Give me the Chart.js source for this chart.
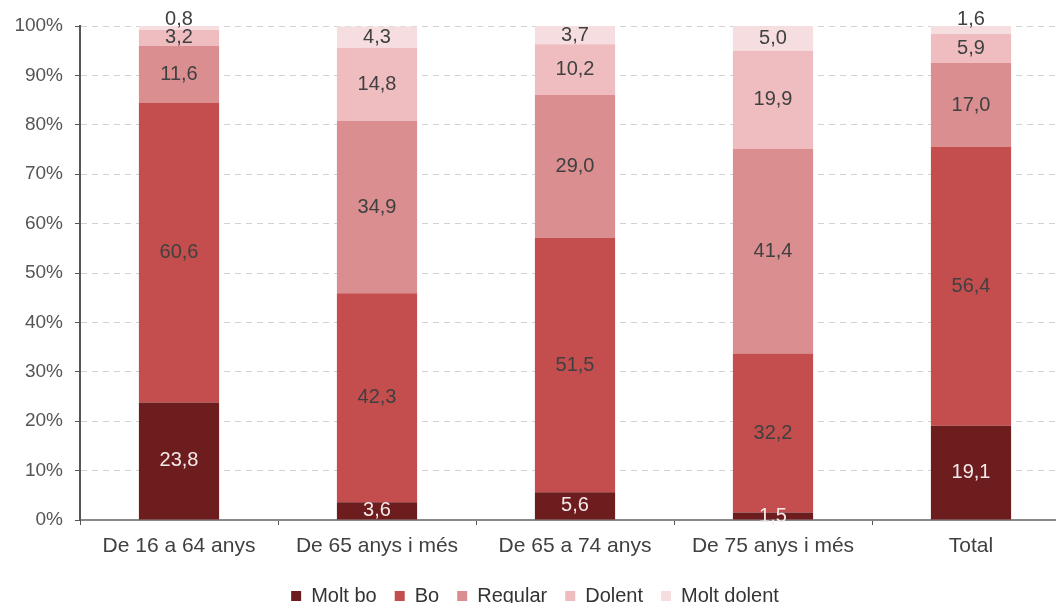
<!DOCTYPE html>
<html>
<head>
<meta charset="utf-8">
<script src="https://cdn.jsdelivr.net/npm/chart.js@4"></script>
<style>
  html, body { margin: 0; padding: 0; background: #fff; overflow: hidden; }
  #wrap { width: 1070px; height: 603px; }
</style>
</head>
<body>
<div id="wrap"><canvas id="myChart"></canvas></div>
<script>
const categories = ["De 16 a 64 anys", "De 65 anys i més", "De 65 a 74 anys", "De 75 anys i més", "Total"];
const seriesNames = ["Molt bo", "Bo", "Regular", "Dolent", "Molt dolent"];
const moltBo = [23.8, 3.6, 5.6, 1.5, 19.1];
const bo = [60.6, 42.3, 51.5, 32.2, 56.4];
const regular = [11.6, 34.9, 29.0, 41.4, 17.0];
const dolent = [3.2, 14.8, 10.2, 19.9, 5.9];
const moltDolent = [0.8, 4.3, 3.7, 5.0, 1.6];
const yTicks = [0, 10, 20, 30, 40, 50, 60, 70, 80, 90, 100];

const colors = ["#6e1d1e", "#c44e4e", "#da8e90", "#efbcc0", "#f6dde0"];
const values = [moltBo, bo, regular, dolent, moltDolent];
const FONT = "Arial";

// write the value of every segment on it (or just above when it is too thin)
const valueLabels = {
  id: "valueLabels",
  afterDatasetsDraw(chart) {
    const ctx = chart.ctx;
    ctx.save();
    ctx.font = "20px " + FONT;
    ctx.textAlign = "center";
    ctx.textBaseline = "middle";
    chart.data.datasets.forEach((ds, i) => {
      chart.getDatasetMeta(i).data.forEach((bar, j) => {
        const v = ds.data[j];
        let y = (bar.y + bar.base) / 2;
        if (Math.abs(bar.base - bar.y) < 10 && i > 0) y = bar.y - 7;
        ctx.fillStyle = i === 0 ? "#f4eaea" : "#404040";
        ctx.fillText(v.toFixed(1).replace(".", ","), bar.x, y);
      });
    });
    ctx.restore();
  },
};

const data = {
  labels: categories,
  datasets: seriesNames.map((name, i) => ({
    label: name,
    data: values[i],
    backgroundColor: colors[i],
    borderWidth: 0,
    barPercentage: 0.405,
    categoryPercentage: 1,
  })),
};

const config = {
  type: "bar",
  data: data,
  options: {
    responsive: true,
    maintainAspectRatio: false,
    animation: false,
    layout: {
      padding: { top: 26, right: 0, left: 0, bottom: -13 },
    },
    plugins: {
      legend: {
        position: "bottom",
        labels: {
          boxWidth: 10,
          boxHeight: 10,
          padding: 18,
          color: "#333",
          font: { family: FONT, size: 20 },
        },
      },
      tooltip: { enabled: false },
    },
    scales: {
      x: {
        stacked: true,
        grid: {
          offset: true,
          drawOnChartArea: false,
          drawTicks: true,
          tickLength: 5,
          tickColor: "#555",
        },
        border: { display: true, color: "#8a8a8a", width: 2 },
        ticks: {
          color: "#404040",
          padding: 9,
          font: { family: FONT, size: 21 },
        },
        afterFit: (scale) => {
          scale.height = 48;
        },
      },
      y: {
        stacked: true,
        min: 0,
        max: 100,
        afterBuildTicks: (scale) => {
          scale.ticks = yTicks.map((v) => ({ value: v }));
        },
        grid: {
          color: "#d2d2d2",
          lineWidth: 1,
          tickLength: 5,
          tickColor: "#555",
          tickBorderDash: [],
        },
        border: { display: true, color: "#555", width: 2, dash: [6, 5] },
        ticks: {
          color: "#555",
          padding: 12,
          font: { family: FONT, size: 19 },
          callback: (v) => v + "%",
        },
        afterFit: (scale) => {
          scale.width = 80;
        },
      },
    },
  },
  plugins: [valueLabels],
};

const myChart = new Chart(document.getElementById("myChart"), config);
</script>
</body>
</html>
